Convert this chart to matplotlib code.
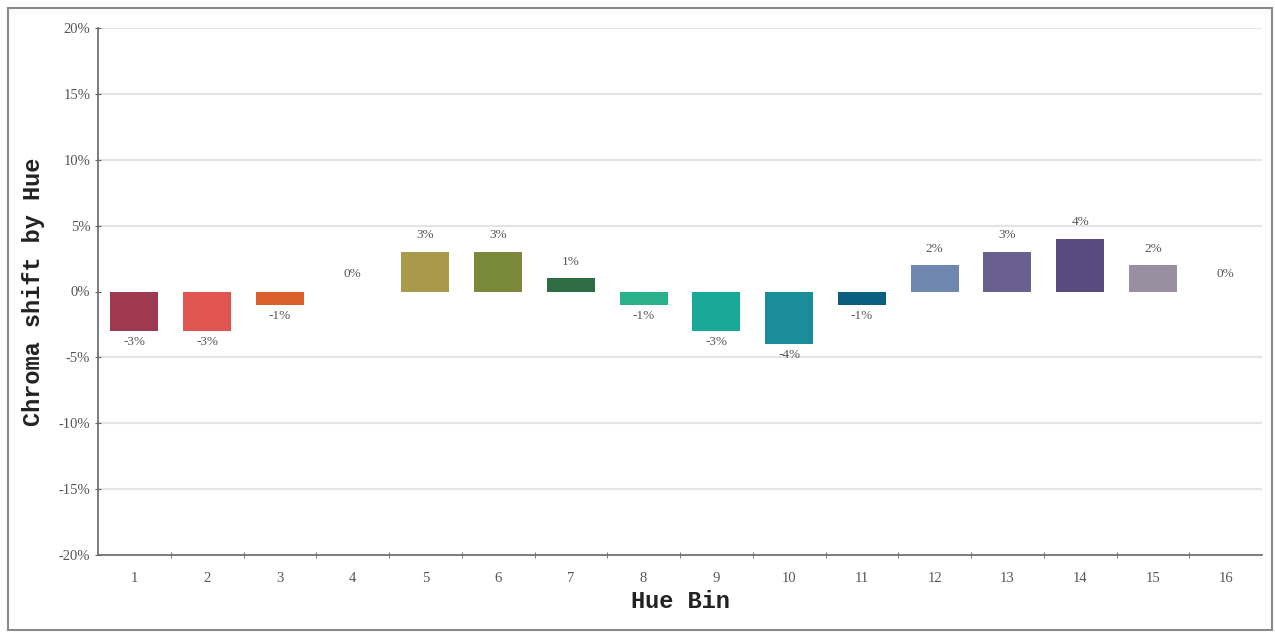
"""Chroma shift per hue bin, drawn as a bar chart with value labels."""
import matplotlib
matplotlib.use("Agg")
import matplotlib.pyplot as plt
import matplotlib.patches as patches
import numpy as np

# Data
hue_bins = list(range(1, 17))
chroma_shift = [-3, -3, -1, 0, 3, 3, 1, -1, -3, -4, -1, 2, 3, 4, 2, 0]
bar_colours = [
    "#9e3a50", "#e0554f", "#d9602a", "#cccccc",
    "#a89a4a", "#7a8a3a", "#2f6e45", "#2ab08a",
    "#1aa898", "#1a8c9a", "#0a5f80", "#7088b0",
    "#6a6090", "#5a4a80", "#9a8fa0", "#cccccc",
]
y_ticks = [-20, -15, -10, -5, 0, 5, 10, 15, 20]

fig = plt.figure(figsize=(12.75, 6.35), dpi=100)
ax = fig.add_axes([98 / 1275, 80 / 635, 1164 / 1275, 527 / 635])

# Outer frame around the whole figure
fig.patches.append(
    patches.Rectangle(
        (8 / 1275, 5 / 635), 1264 / 1275, 622 / 635,
        transform=fig.transFigure, fill=False, edgecolor="#8a8a8a", linewidth=1.5,
    )
)

x = np.arange(len(hue_bins))
ax.bar(x, chroma_shift, width=0.66, color=bar_colours, edgecolor="none", zorder=3)

# Value labels: above positive / zero bars, below negative ones
for xi, v in zip(x, chroma_shift):
    if v > 0:
        ax.text(xi, v + 0.8, f"{v}%", ha="center", va="bottom",
                fontsize=9.5, family="Liberation Serif", color="#555555")
    elif v < 0:
        ax.text(xi, v - 0.4, f"{v}%", ha="center", va="top",
                fontsize=9.5, family="Liberation Serif", color="#555555")
    else:
        ax.text(xi, 1.3, f"{v}%", ha="center", va="center",
                fontsize=9.5, family="Liberation Serif", color="#555555")

ax.set_xlim(-0.5, len(hue_bins) - 0.5)
ax.set_ylim(-20, 20)
ax.set_yticks(y_ticks)
ax.set_yticklabels([f"{t}%" for t in y_ticks])
ax.set_xticks(x)
ax.set_xticklabels([str(h) for h in hue_bins])
ax.set_xticks(np.arange(0.5, len(hue_bins) - 0.5, 1), minor=True)

for lbl in ax.get_xticklabels() + ax.get_yticklabels():
    lbl.set_family("Liberation Serif")
    lbl.set_fontsize(10.5)
    lbl.set_color("#555555")

ax.tick_params(axis="x", which="major", length=0, pad=12)
ax.tick_params(axis="x", which="minor", length=4, direction="inout", color="#666666")
ax.tick_params(axis="y", length=5, direction="inout", color="#666666", pad=3)

# Light horizontal grid
for t in y_ticks:
    if t not in (0, -20):
        ax.axhline(t, color="#e4e4e4", linewidth=1.5, zorder=1)

for side in ("top", "right"):
    ax.spines[side].set_visible(False)
for side in ("left", "bottom"):
    ax.spines[side].set_color("#666666")
    ax.spines[side].set_linewidth(1.2)

ax.set_ylabel("Chroma shift by Hue", family="Liberation Mono", fontweight="bold",
              fontsize=17, color="#222222", labelpad=10)
ax.set_xlabel("Hue Bin", family="Liberation Mono", fontweight="bold",
              fontsize=17, color="#222222", labelpad=4)

fig.savefig("out.png", dpi=100)
